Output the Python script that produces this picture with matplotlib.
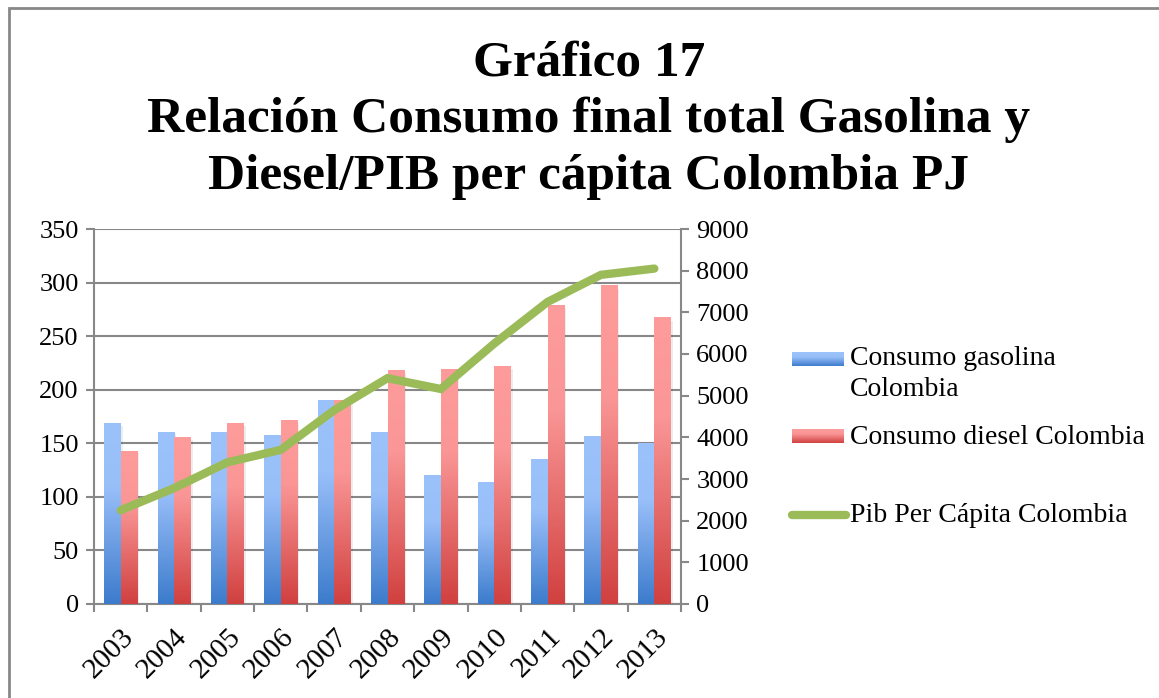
import matplotlib.pyplot as plt
import numpy as np
from matplotlib.colors import LinearSegmentedColormap
from matplotlib.patches import Rectangle
from matplotlib.lines import Line2D

years = ['2003', '2004', '2005', '2006', '2007', '2008', '2009', '2010', '2011', '2012', '2013']
gasolina = [168, 160, 160, 157, 190, 160, 120, 113, 135, 156, 150]
diesel = [142, 155, 168, 171, 190, 218, 219, 222, 279, 297, 267]
pib = [2250, 2780, 3400, 3700, 4650, 5420, 5160, 6250, 7250, 7900, 8050]

labels = ['Consumo gasolina\nColombia', 'Consumo diesel Colombia', 'Pib Per Cápita Colombia']
title = 'Gráfico 17\nRelación Consumo final total Gasolina y\nDiesel/PIB per cápita Colombia PJ'

plt.rcParams['font.family'] = ['Liberation Serif', 'DejaVu Serif']

grey = '#888888'
green = '#9bbb59'
blue_cmap = LinearSegmentedColormap.from_list('blue', [(0, '#3c7bcc'), (0.65, '#99bff9'), (1, '#9cc2fc')])
red_cmap = LinearSegmentedColormap.from_list('red', [(0, '#d0403f'), (0.65, '#fa9696'), (1, '#fe9b9b')])
grad = np.linspace(0, 1, 256)[::-1].reshape(-1, 1)


def gradient_bars(ax, bars, cmap):
    # paint each bar with a vertical gradient, light on top
    for b in bars:
        x0, y0 = b.get_x(), b.get_y()
        w, h = b.get_width(), b.get_height()
        # soft shadow to the right of the bar
        ax.add_patch(Rectangle((x0 + w, y0), w * 0.12, h * 0.99, color='#000000', alpha=0.07, lw=0, zorder=2))
        ax.imshow(grad, cmap=cmap, extent=[x0, x0 + w, y0, y0 + h], aspect='auto',
                  interpolation='bicubic', zorder=3)
        b.set_visible(False)


fig = plt.figure(figsize=(11.59, 6.98), dpi=100)
fig.patches.append(Rectangle((9 / 1159, -0.05), 1.2, 1.05 - 8 / 698, transform=fig.transFigure,
                             fill=False, edgecolor=grey, lw=2, zorder=0))

ax = fig.add_axes([94 / 1159, 1 - 604 / 698, (681 - 94) / 1159, (604 - 229) / 698])
x = np.arange(len(years))
w = 0.31
b1 = ax.bar(x - w / 2, gasolina, w)
b2 = ax.bar(x + w / 2, diesel, w)
gradient_bars(ax, b1, blue_cmap)
gradient_bars(ax, b2, red_cmap)

ax.set_xlim(-0.5, len(years) - 0.5)
ax.set_ylim(0, 350)
ax.set_yticks(range(0, 351, 50))
ax.set_axisbelow(True)
ax.yaxis.grid(True, color=grey, lw=1.5, zorder=0)
ax.set_xticks(x)
ax.set_xticklabels(years, rotation=45, ha='right', rotation_mode='anchor', fontsize=21)
ax.set_xticks(np.arange(-0.5, len(years)), minor=True)
ax.tick_params(axis='x', which='major', length=0, pad=14)
ax.tick_params(axis='x', which='minor', length=6, width=1.5, color=grey)
ax.tick_params(axis='y', length=6, width=1.5, color=grey, labelsize=19, pad=5)
for s in ['left', 'bottom', 'right']:
    ax.spines[s].set_color(grey)
    ax.spines[s].set_linewidth(1.5)
ax.spines['top'].set_visible(False)

ax2 = ax.twinx()
ax2.plot(x, pib, color=green, lw=6, solid_capstyle='round', solid_joinstyle='miter', zorder=5)
ax2.set_ylim(0, 9000)
ax2.set_yticks(range(0, 9001, 1000))
ax2.tick_params(axis='y', length=6, width=1.5, color=grey, labelsize=19, pad=5)
for s in ['left', 'bottom', 'right', 'top']:
    ax2.spines[s].set_visible(False)

fig.text(0.508, 1 - 40 / 698, title, ha='center', va='top', fontsize=37, fontweight='bold',
         linespacing=1.3)

# legend drawn in its own axes, in pixel units
lg = fig.add_axes([0, 0, 1, 1], facecolor='none')
lg.axis('off')
lg.imshow(grad, cmap=blue_cmap, extent=[792, 844, 366, 352], aspect='auto', interpolation='bicubic')
lg.imshow(grad, cmap=red_cmap, extent=[792, 844, 443, 429], aspect='auto', interpolation='bicubic')
lg.add_line(Line2D([792, 846], [515, 515], color=green, lw=6, solid_capstyle='round'))
lg.set_xlim(0, 1159)
lg.set_ylim(698, 0)
lg.text(850, 346, labels[0], va='top', ha='left', fontsize=20, linespacing=1.3)
lg.text(850, 437, labels[1], va='center', ha='left', fontsize=20)
lg.text(850, 515, labels[2], va='center', ha='left', fontsize=20)

fig.savefig('out.png', dpi=100)
